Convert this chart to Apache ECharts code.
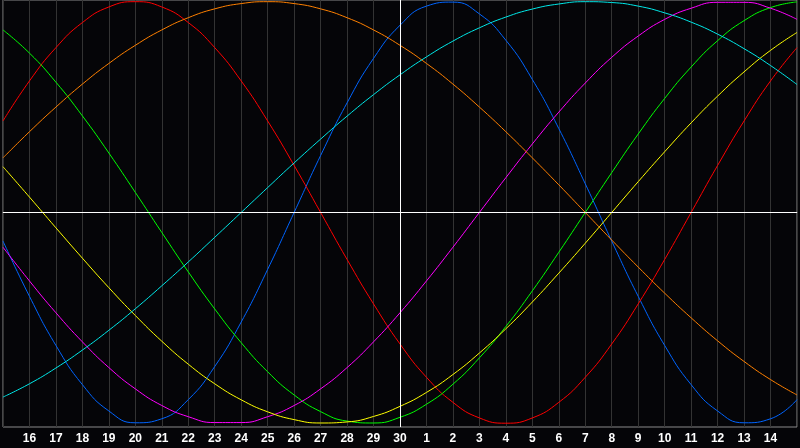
<!DOCTYPE html>
<html>
<head>
<meta charset="utf-8">
<script src="https://cdn.jsdelivr.net/npm/echarts@6/dist/echarts.min.js"></script>
<style>
  html, body { margin: 0; padding: 0; background: #050508; }
  #chart { width: 800px; height: 448px; }
</style>
</head>
<body>
<div id="chart"></div>
<script>
// day labels: 15 .. 30, then 1 .. 15 of next month (first/last hidden)
const days = ['15', '16', '17', '18', '19', '20', '21', '22', '23', '24', '25', '26', '27', '28', '29', '30',
    '1', '2', '3', '4', '5', '6', '7', '8', '9', '10', '11', '12', '13', '14', '15'];

// cycle values, -1 .. 1
const physical = [-0.136, -0.398, -0.631, -0.817, -0.942, -0.998, -0.979, -0.888, -0.731, -0.520, -0.270, 0, 0.270, 0.520, 0.731, 0.888,
    0.979, 0.998, 0.942, 0.817, 0.631, 0.398, 0.136, -0.136, -0.398, -0.631, -0.817, -0.942, -0.998, -0.979, -0.888];
const emotional = [0.434, 0.624, 0.782, 0.901, 0.975, 1, 0.975, 0.901, 0.782, 0.624, 0.434, 0.223, 0, -0.223, -0.434, -0.624,
    -0.782, -0.901, -0.975, -1, -0.975, -0.901, -0.782, -0.624, -0.434, -0.223, 0, 0.223, 0.434, 0.624, 0.782];
const intellectual = [0.866, 0.756, 0.618, 0.458, 0.282, 0.095, -0.095, -0.282, -0.458, -0.618, -0.756, -0.866, -0.945, -0.990, -0.999, -0.972,
    -0.910, -0.815, -0.690, -0.541, -0.372, -0.189, 0, 0.189, 0.372, 0.541, 0.690, 0.815, 0.910, 0.972, 0.999];
const intuitive = [-0.165, -0.325, -0.476, -0.614, -0.736, -0.837, -0.916, -0.969, -0.997, -0.997, -0.969, -0.916, -0.837, -0.736, -0.614, -0.476,
    -0.325, -0.165, 0, 0.165, 0.325, 0.476, 0.614, 0.736, 0.837, 0.916, 0.969, 0.997, 0.997, 0.969, 0.916];
const aesthetic = [0.217, 0.073, -0.073, -0.217, -0.357, -0.489, -0.611, -0.720, -0.813, -0.889, -0.946, -0.983, -0.999, -0.994, -0.968, -0.920,
    -0.854, -0.769, -0.667, -0.552, -0.425, -0.288, -0.146, 0, 0.146, 0.288, 0.425, 0.552, 0.667, 0.769, 0.854];
const awareness = [0.259, 0.383, 0.5, 0.609, 0.707, 0.793, 0.866, 0.924, 0.966, 0.991, 1, 0.991, 0.966, 0.924, 0.866, 0.793,
    0.707, 0.609, 0.5, 0.383, 0.259, 0.131, 0, -0.131, -0.259, -0.383, -0.5, -0.609, -0.707, -0.793, -0.866];
const spiritual = [-0.876, -0.813, -0.738, -0.653, -0.559, -0.457, -0.348, -0.235, -0.118, 0, 0.118, 0.235, 0.348, 0.457, 0.559, 0.653,
    0.738, 0.813, 0.876, 0.927, 0.965, 0.989, 1.000, 0.996, 0.979, 0.947, 0.903, 0.846, 0.777, 0.697, 0.607];

const todayIndex = 15;

const cycles = [
    { name: 'physical', data: physical, color: '#0064ff' },
    { name: 'emotional', data: emotional, color: '#ff0000' },
    { name: 'intellectual', data: intellectual, color: '#00ff00' },
    { name: 'intuitive', data: intuitive, color: '#ff00ff' },
    { name: 'aesthetic', data: aesthetic, color: '#ffff00' },
    { name: 'awareness', data: awareness, color: '#ff8000' },
    { name: 'spiritual', data: spiritual, color: '#00e8e8' }
];

const chart = echarts.init(document.getElementById('chart'));

const series = cycles.map(c => ({
    name: c.name,
    type: 'line',
    data: c.data,
    smooth: true,
    showSymbol: false,
    lineStyle: { color: c.color, width: 1 },
    z: 3
}));

// white reference lines: today and zero
series.push({
    type: 'line',
    data: [],
    markLine: {
        silent: true,
        symbol: 'none',
        label: { show: false },
        lineStyle: { color: '#ffffff', width: 1, type: 'solid' },
        data: [{ xAxis: todayIndex }, { yAxis: 0 }]
    },
    z: 2
});

chart.setOption({
    animation: false,
    backgroundColor: '#050508',
    grid: {
        left: 0, right: -1, top: 0, bottom: 21,
        show: true,
        borderColor: '#8a8a8a',
        borderWidth: 1
    },
    xAxis: {
        type: 'category',
        data: days,
        boundaryGap: false,
        axisLine: { lineStyle: { color: '#8a8a8a' } },
        axisTick: { show: false },
        axisLabel: {
            interval: 0,
            color: '#ffffff',
            fontFamily: 'Liberation Sans',
            fontWeight: 'bold',
            fontSize: 12,
            margin: 6,
            formatter: (v, i) => (i === 0 || i === days.length - 1) ? '' : v
        },
        splitLine: { show: true, interval: 0, lineStyle: { color: '#333333', width: 1 } }
    },
    yAxis: {
        type: 'value',
        min: -1.018,
        max: 1.008,
        axisLine: { show: false },
        axisTick: { show: false },
        axisLabel: { show: false },
        splitLine: { show: false }
    },
    series: series
});
</script>
</body>
</html>
